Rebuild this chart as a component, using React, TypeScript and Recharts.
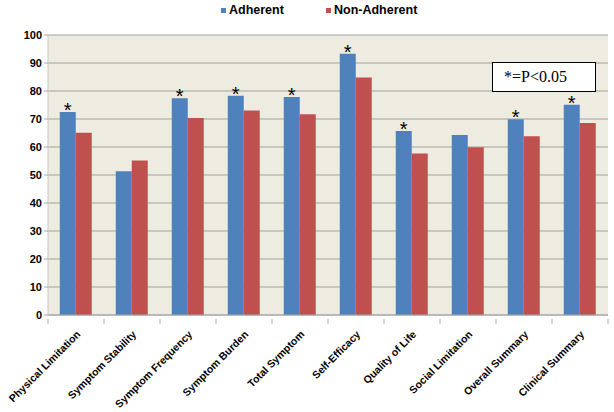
import React from 'react';
import { BarChart, Bar, XAxis, YAxis, CartesianGrid, Legend, LabelList } from 'recharts';

const categories = [
  'Physical Limitation',
  'Symptom Stability',
  'Symptom Frequency',
  'Symptom Burden',
  'Total Symptom',
  'Self-Efficacy',
  'Quality of Life',
  'Social Limitation',
  'Overall Summary',
  'Clinical Summary',
];
const adherent = [72.5, 51.3, 77.4, 78.3, 77.9, 93.3, 65.7, 64.3, 69.9, 75.1];
const nonAdherent = [65.1, 55.2, 70.4, 73.0, 71.7, 84.8, 57.7, 59.9, 63.8, 68.6];
const significant = [true, false, true, true, true, true, true, false, true, true];
const yTicks = [0, 10, 20, 30, 40, 50, 60, 70, 80, 90, 100];
const noteText = '*=P<0.05';

const BLUE = '#4F81BD';
const RED = '#C0504D';
const FONT = 'Arial, "Liberation Sans", Helvetica, sans-serif';

const data = categories.map((c, i) => ({
  name: c,
  adherent: adherent[i],
  nonAdherent: nonAdherent[i],
  sig: significant[i],
}));

const XTick = (props: any) => {
  const { x, y, payload, index } = props;
  const half = 28;
  return (
    <g>
      <line x1={x - half} x2={x - half} y1={y - 4} y2={y + 1} stroke="#a6a6a6" />
      {index === categories.length - 1 && (
        <line x1={x + half} x2={x + half} y1={y - 4} y2={y + 1} stroke="#a6a6a6" />
      )}
      <text
        transform={`translate(${x + 5},${y + 12}) rotate(-45)`}
        textAnchor="end"
        fontFamily={FONT}
        fontWeight="bold"
        fontSize={10.5}
        fill="#000"
      >
        {payload.value}
      </text>
    </g>
  );
};

const Star = (props: any) => {
  const { x, y, width, index } = props;
  if (!significant[index]) return null;
  return (
    <text
      x={x + width / 2}
      y={y + 5}
      textAnchor="middle"
      fontFamily={FONT}
      fontSize={20}
      fill="#000"
    >
      *
    </text>
  );
};

const LegendContent = () => (
  <div style={{ display: 'flex', fontFamily: FONT, fontWeight: 'bold', fontSize: 12.5, color: '#000' }}>
    <div style={{ position: 'absolute', left: 221, display: 'flex', alignItems: 'center' }}>
      <span style={{ width: 5, height: 5, background: BLUE, display: 'inline-block', marginRight: 3 }} />
      <span>Adherent</span>
    </div>
    <div style={{ position: 'absolute', left: 326, display: 'flex', alignItems: 'center' }}>
      <span style={{ width: 5, height: 5, background: RED, display: 'inline-block', marginRight: 3 }} />
      <span>Non-Adherent</span>
    </div>
  </div>
);

export default function App() {
  return (
    <div style={{ position: 'absolute', left: 0, top: 0, width: 614, height: 412, background: '#fff' }}>
      <BarChart
        width={614}
        height={412}
        data={data}
        margin={{ top: 35, right: 6, bottom: 0, left: 8 }}
        barGap={0}
        barCategoryGap="21%"
      >
        <CartesianGrid vertical={false} stroke="#a0a0a0" fill="#EEECE1" />
        <XAxis
          dataKey="name"
          interval={0}
          height={97}
          tick={<XTick />}
          tickLine={false}
          stroke="#a6a6a6"
        />
        <YAxis
          domain={[0, 100]}
          ticks={yTicks}
          width={40}
          tickSize={4}
          tickLine={{ stroke: '#a6a6a6' }}
          axisLine={{ stroke: '#c8c8c8' }}
          tick={{ fontFamily: FONT, fontWeight: 'bold', fontSize: 11, fill: '#000' }}
          interval={0}
        />
        <Legend
          layout="vertical"
          align="center"
          verticalAlign="top"
          wrapperStyle={{ top: 3, left: 0, width: 614 }}
          content={<LegendContent />}
        />
        <Bar dataKey="adherent" name="Adherent" fill={BLUE} isAnimationActive={false}>
          <LabelList dataKey="adherent" content={<Star />} />
        </Bar>
        <Bar dataKey="nonAdherent" name="Non-Adherent" fill={RED} isAnimationActive={false} />
      </BarChart>
      <div
        style={{
          position: 'absolute',
          left: 492,
          top: 62,
          width: 102,
          height: 28,
          border: '1px solid #000',
          background: '#fff',
          boxSizing: 'content-box',
          fontFamily: '"Liberation Serif", "Times New Roman", serif',
          fontSize: 16,
          lineHeight: '28px',
        }}
      >
        <span style={{ marginLeft: 11 }}>{noteText}</span>
      </div>
    </div>
  );
}
